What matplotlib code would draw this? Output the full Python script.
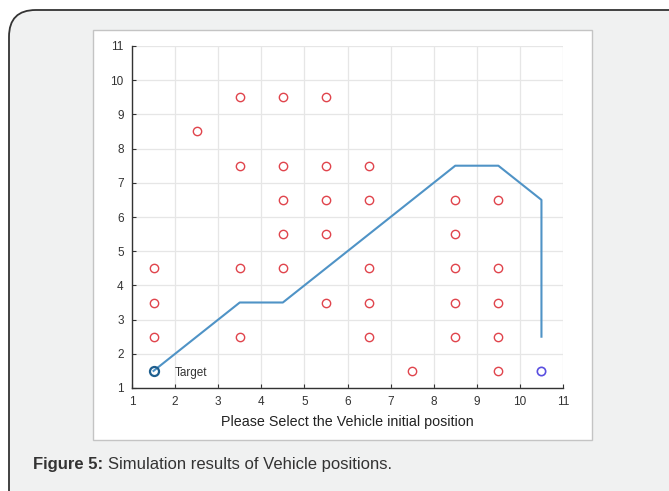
import matplotlib
matplotlib.use("Agg")
import matplotlib.pyplot as plt
from matplotlib.patches import FancyBboxPatch, Rectangle

plt.rcParams['font.family'] = ['Liberation Sans', 'DejaVu Sans']

# Data
obstacle_x = [3.5, 4.5, 5.5, 2.5, 3.5, 4.5, 5.5, 6.5, 4.5, 5.5, 6.5, 8.5, 9.5,
              4.5, 5.5, 8.5, 1.5, 3.5, 4.5, 6.5, 8.5, 9.5, 1.5, 5.5, 6.5, 8.5, 9.5,
              1.5, 3.5, 6.5, 8.5, 9.5, 7.5, 9.5]
obstacle_y = [9.5, 9.5, 9.5, 8.5, 7.5, 7.5, 7.5, 7.5, 6.5, 6.5, 6.5, 6.5, 6.5,
              5.5, 5.5, 5.5, 4.5, 4.5, 4.5, 4.5, 4.5, 4.5, 3.5, 3.5, 3.5, 3.5, 3.5,
              2.5, 2.5, 2.5, 2.5, 2.5, 1.5, 1.5]
path_x = [1.5, 3.5, 4.5, 8.5, 9.5, 10.5, 10.5]
path_y = [1.5, 3.5, 3.5, 7.5, 7.5, 6.5, 2.5]
target = (1.5, 1.5)
vehicle = (10.5, 1.5)
ticks = list(range(1, 12))

W, H = 669, 491
fig = plt.figure(figsize=(W / 100, H / 100), dpi=100)
fig.patch.set_facecolor("white")

def fx(px):
    return px / W

def fy(py):
    return 1 - py / H

# outer rounded box
outer = FancyBboxPatch((fx(9), fy(520)), fx(700) - fx(9), fy(10) - fy(520),
                       boxstyle="round,pad=0,rounding_size=0.04",
                       transform=fig.transFigure, facecolor="#f0f1f1",
                       edgecolor="#333333", linewidth=1.3, zorder=0,
                       mutation_aspect=W / H)
fig.patches.append(outer)

# inner white panel
inner = Rectangle((fx(93), fy(440)), fx(592) - fx(93), fy(30) - fy(440),
                  transform=fig.transFigure, facecolor="white",
                  edgecolor="#c4c4c4", linewidth=1.0, zorder=1)
fig.patches.append(inner)

ax = fig.add_axes([fx(132), fy(388), fx(563) - fx(132), fy(46) - fy(388)])
ax.set_facecolor("white")
ax.set_zorder(2)
ax.set_xlim(1, 11)
ax.set_ylim(1, 11)
ax.set_xticks(ticks)
ax.set_yticks(ticks)
ax.grid(True, color="#e6e6e6", linewidth=0.9)
ax.set_axisbelow(True)
for s in ["top", "right"]:
    ax.spines[s].set_visible(False)
for s in ["left", "bottom"]:
    ax.spines[s].set_color("#333333")
    ax.spines[s].set_linewidth(1.0)
ax.tick_params(direction="in", length=3, width=0.8, colors="#333333",
               labelsize=8.5, labelcolor="#333333")
ax.tick_params(axis="x", pad=6)
ax.tick_params(axis="y", pad=6)

ax.plot(path_x, path_y, color="#4f93c6", linewidth=1.5, zorder=3)
ax.plot(obstacle_x, obstacle_y, linestyle="none", marker="o", markersize=6,
        markerfacecolor="none", markeredgecolor="#e0444c", markeredgewidth=1.0, zorder=4)
ax.plot([target[0]], [target[1]], linestyle="none", marker="o", markersize=6.5,
        markerfacecolor="none", markeredgecolor="#1f5f8f", markeredgewidth=1.6, zorder=5)
ax.plot([vehicle[0]], [vehicle[1]], linestyle="none", marker="o", markersize=6,
        markerfacecolor="none", markeredgecolor="#5a4fe0", markeredgewidth=1.2, zorder=5)
ax.text(2.0, 1.45, "Target", fontsize=8.5, color="#333333", ha="left", va="center")
ax.set_xlabel("Please Select the Vehicle initial position", fontsize=10.3,
              color="#222222", labelpad=5)

# caption
t1 = fig.text(fx(33), fy(464), "Figure 5:", fontsize=12, fontweight="bold",
              color="#333333", ha="left", va="center")
fig.canvas.draw()
bb = t1.get_window_extent()
fig.text((bb.x1 + 5) / W, fy(464), "Simulation results of Vehicle positions.",
         fontsize=12, color="#333333", ha="left", va="center")

fig.savefig("out.png", dpi=100)
